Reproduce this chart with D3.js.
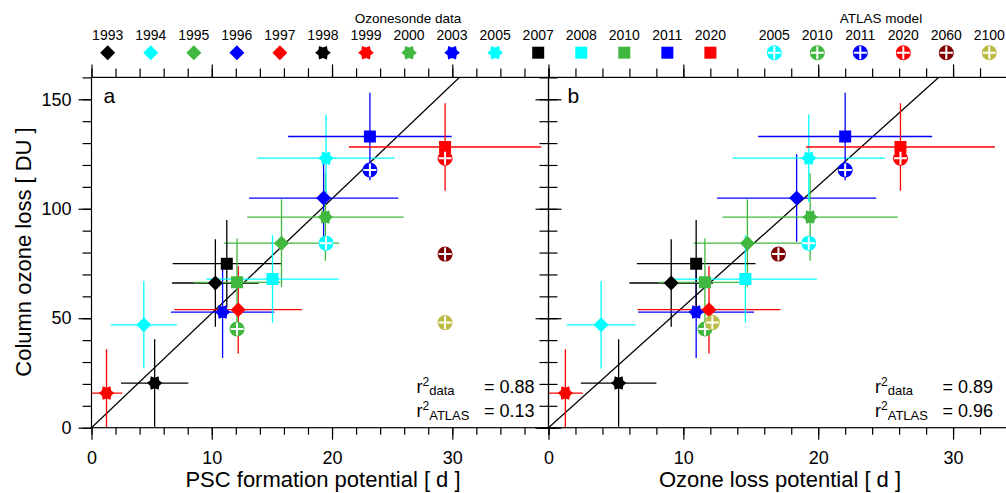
<!DOCTYPE html>
<html>
<head>
<meta charset="utf-8">
<script src="https://cdn.jsdelivr.net/npm/d3@7"></script>
<style>
  body { margin: 0; background: #fff; }
  svg { display: block; }
</style>
</head>
<body>
<div id="chart"></div>
<script>
// ---- values ----
const sondeYears  = ['1993', '1994', '1995', '1996', '1997', '1998', '1999', '2000', '2003', '2005', '2007', '2008', '2010', '2011', '2020'];
const sondeShapes = ['diamond', 'diamond', 'diamond', 'diamond', 'diamond', 'star', 'star', 'star', 'star', 'star', 'square', 'square', 'square', 'square', 'square'];
const sondeColors = ['#000000', '#00ffff', '#40b840', '#0000ff', '#ff0000', '#000000', '#ff0000', '#40b840', '#0000ff', '#00ffff', '#000000', '#00ffff', '#40b840', '#0000ff', '#ff0000'];
// column ozone loss [DU] and its uncertainty
const sondeLoss    = [66.1, 47.0, 84.3, 104.9, 53.9, 20.4, 15.8, 96.2, 52.8, 123.1, 74.9, 67.9, 66.4, 133.0, 128.2];
const sondeLossErr = [20, 20, 20, 20, 20, 20, 20, 20, 21, 20, 20, 20, 20, 20, 20];
// PSC formation potential [d]
const sondePsc    = [10.3, 4.35, 15.8, 19.3, 12.2, 5.25, 1.25, 19.45, 10.9, 19.5, 11.25, 15.05, 12.1, 23.15, 29.4];
const sondePscErr = [3.6, 2.75, 4.8, 6.2, 5.3, 2.8, 1.3, 6.5, 4.3, 5.7, 4.5, 5.5, 3.6, 6.8, 8.0];
// ozone loss potential [d]
const sondeOlp    = [9.1, 3.9, 14.75, 18.4, 11.9, 5.2, 1.25, 19.4, 10.95, 19.3, 10.95, 14.6, 11.6, 22.0, 26.1];
const sondeOlpErr = [3.1, 2.55, 4.0, 5.9, 5.3, 2.8, 1.3, 6.5, 4.3, 5.65, 4.4, 5.3, 3.45, 6.45, 7.0];

const atlasYears  = ['2005', '2010', '2011', '2020', '2060', '2100'];
const atlasColors = ['#00ffff', '#40b840', '#0000ff', '#ff0000', '#800000', '#bcbc45'];
const atlasLoss   = [84.3, 45.1, 117.7, 123.1, 79.3, 48.0];
const atlasPsc    = [19.5, 12.1, 23.15, 29.4, 29.4, 29.4];
const atlasOlp    = [19.3, 11.6, 22.0, 26.1, 17.05, 12.15];

const panelLetters = ['a', 'b'];
const panelTitles  = ['PSC formation potential [ d ]', 'Ozone loss potential [ d ]'];
const xMaxes       = [38, 34];
const fitSlopes    = [5.23, 5.53];
const r2Data       = ['0.88', '0.89'];
const r2Atlas      = ['0.13', '0.96'];
const yMax = 160;

const FONT = '"Liberation Sans", Arial, Helvetica, sans-serif';

const width = 1006;
const height = 493;

const svg = d3.select('#chart')
    .append('svg')
    .attr('width', width)
    .attr('height', height)
    .style('background', '#fff')
    .attr('font-family', FONT);

const y = d3.scaleLinear().domain([0, yMax]).range([427.7, 77.4]);
const xRanges = [[91.5, 548.5], [548.5, 1007]];

function markerPath(shape) {
    if (shape === 'diamond') return 'M0,-7.5L7.5,0L0,7.5L-7.5,0Z';
    if (shape === 'square') return 'M-6,-6H6V6H-6Z';
    // six pointed star
    const pts = d3.range(12).map(k => {
        const a = k * Math.PI / 6;
        const r = k % 2 ? 5.3 : 7.8;
        return [(r * Math.cos(a)).toFixed(2), (r * Math.sin(a)).toFixed(2)];
    });
    return 'M' + pts.join('L') + 'Z';
}

function drawMarker(g, shape, color, cx, cy) {
    if (shape === 'atlas') {
        const m = g.append('g').attr('transform', `translate(${cx},${cy})`);
        m.append('circle').attr('r', 7.5).attr('fill', color);
        m.append('path')
            .attr('d', 'M-6.5,0H6.5M0,-6.5V6.5')
            .attr('stroke', '#fff')
            .attr('stroke-width', 2);
        return;
    }
    g.append('path')
        .attr('d', markerPath(shape))
        .attr('transform', `translate(${cx},${cy})`)
        .attr('fill', color);
}

function tickAxis(g, axis, values, size, labels, pad) {
    const a = axis.tickValues(values).tickSize(size).tickSizeOuter(0).tickPadding(pad || 0);
    if (!labels) a.tickFormat('');
    g.call(a);
    g.select('.domain').remove();
    g.selectAll('line').attr('stroke', '#000').attr('stroke-width', 1.2);
    g.selectAll('text')
        .attr('font-size', 18)
        .attr('fill', '#000')
        .attr('font-family', FONT);
}

function drawPanel(p) {
    const xMax = xMaxes[p];
    const x = d3.scaleLinear().domain([0, xMax]).range(xRanges[p]);
    const xs = p === 0 ? sondePsc : sondeOlp;
    const xe = p === 0 ? sondePscErr : sondeOlpErr;
    const ax = p === 0 ? atlasPsc : atlasOlp;

    const g = svg.append('g').attr('class', 'panel-' + panelLetters[p]);
    const x0 = x.range()[0], x1 = x.range()[1];
    const yb = y(0), yt = y(yMax);

    // clip region
    g.append('clipPath').attr('id', 'clip' + p)
        .append('rect')
        .attr('x', x0).attr('y', yt)
        .attr('width', x1 - x0).attr('height', yb - yt);
    const plot = g.append('g').attr('clip-path', `url(#clip${p})`);

    // fit line through the origin
    plot.append('line')
        .attr('x1', x(0)).attr('y1', y(0))
        .attr('x2', x(xMax)).attr('y2', y(fitSlopes[p] * xMax))
        .attr('stroke', '#000')
        .attr('stroke-width', 1.3);

    // error bars
    sondeYears.forEach((yr, i) => {
        const c = sondeColors[i];
        plot.append('line')
            .attr('x1', x(xs[i] - xe[i])).attr('x2', x(xs[i] + xe[i]))
            .attr('y1', y(sondeLoss[i])).attr('y2', y(sondeLoss[i]))
            .attr('stroke', c).attr('stroke-width', 1.3);
        plot.append('line')
            .attr('x1', x(xs[i])).attr('x2', x(xs[i]))
            .attr('y1', y(sondeLoss[i] - sondeLossErr[i])).attr('y2', y(sondeLoss[i] + sondeLossErr[i]))
            .attr('stroke', c).attr('stroke-width', 1.3);
    });

    // ozonesonde markers
    sondeYears.forEach((yr, i) => {
        drawMarker(plot, sondeShapes[i], sondeColors[i], x(xs[i]), y(sondeLoss[i]));
    });

    // ATLAS model markers
    atlasYears.forEach((yr, i) => {
        drawMarker(plot, 'atlas', atlasColors[i], x(ax[i]), y(atlasLoss[i]));
    });

    // axes
    const xMinor = d3.range(0, xMax + 0.001, 2);
    const xMajor = d3.range(0, xMax + 0.001, 10);
    const yMinor = d3.range(0, yMax + 0.001, 10);
    const yMajor = d3.range(0, yMax + 0.001, 50);

    const bottom = g.append('g').attr('transform', `translate(0,${yb})`);
    tickAxis(bottom.append('g'), d3.axisBottom(x), xMinor, 7, false);
    tickAxis(bottom.append('g'), d3.axisBottom(x), xMajor, 12, true, 12);

    const top = g.append('g').attr('transform', `translate(0,${yt})`);
    tickAxis(top.append('g'), d3.axisTop(x), xMinor, 9, false);
    tickAxis(top.append('g'), d3.axisTop(x), xMajor, 13, false);

    const left = g.append('g').attr('transform', `translate(${x0},0)`);
    tickAxis(left.append('g'), d3.axisLeft(y), yMinor, 9, false);
    tickAxis(left.append('g'), d3.axisLeft(y), yMajor, 13, p === 0, 7);

    const right = g.append('g').attr('transform', `translate(${x1},0)`);
    tickAxis(right.append('g'), d3.axisRight(y), yMinor, 9, false);
    tickAxis(right.append('g'), d3.axisRight(y), yMajor, 13, false);

    // frame
    g.append('rect')
        .attr('x', x0).attr('y', yt)
        .attr('width', x1 - x0).attr('height', yb - yt)
        .attr('fill', 'none')
        .attr('stroke', '#000')
        .attr('stroke-width', 1.2);

    // panel letter
    g.append('text')
        .attr('x', x0 + (p === 0 ? 12 : 19))
        .attr('y', 103)
        .attr('font-size', 21)
        .text(panelLetters[p]);

    // x axis title
    g.append('text')
        .attr('x', p === 0 ? 323 : 780)
        .attr('y', 487)
        .attr('text-anchor', 'middle')
        .attr('font-size', 22)
        .text(panelTitles[p]);

    // r-squared annotation
    const vx = (p === 0 ? x1 : 1007) - 14;
    const rx = vx - 118;
    [[r2Data[p], 'data', 393, 9], [r2Atlas[p], 'ATLAS', 416.5, 10]].forEach(([val, sub, base, dsub]) => {
        const t = g.append('text').attr('x', rx).attr('y', base).attr('font-size', 18);
        t.append('tspan').text('r');
        t.append('tspan').attr('font-size', 12).attr('dy', -7).text('2');
        t.append('tspan').attr('font-size', 13).attr('dy', dsub).text(sub);
        g.append('text')
            .attr('x', vx).attr('y', base)
            .attr('text-anchor', 'end')
            .attr('font-size', 18)
            .text('= ' + val);
    });
}

drawPanel(0);
drawPanel(1);

// y axis title
svg.append('text')
    .attr('transform', 'translate(31,252) rotate(-90)')
    .attr('text-anchor', 'middle')
    .attr('font-size', 22)
    .text('Column ozone loss [ DU ]');

// ---- legend across the top ----
const legend = svg.append('g').attr('class', 'legend');

legend.append('text')
    .attr('x', 408).attr('y', 23)
    .attr('text-anchor', 'middle')
    .attr('font-size', 13.5)
    .text('Ozonesonde data');

legend.append('text')
    .attr('x', 881).attr('y', 23)
    .attr('text-anchor', 'middle')
    .attr('font-size', 13.5)
    .text('ATLAS model');

sondeYears.forEach((yr, i) => {
    const lx = 107.7 + i * 43.05;
    legend.append('text')
        .attr('x', lx).attr('y', 40)
        .attr('text-anchor', 'middle')
        .attr('font-size', 14)
        .text(yr);
    drawMarker(legend, sondeShapes[i], sondeColors[i], lx, 52.7);
});

atlasYears.forEach((yr, i) => {
    const lx = 774.3 + i * 43;
    legend.append('text')
        .attr('x', lx).attr('y', 40)
        .attr('text-anchor', 'middle')
        .attr('font-size', 14)
        .text(yr);
    drawMarker(legend, 'atlas', atlasColors[i], lx, 52.7);
});
</script>
</body>
</html>
